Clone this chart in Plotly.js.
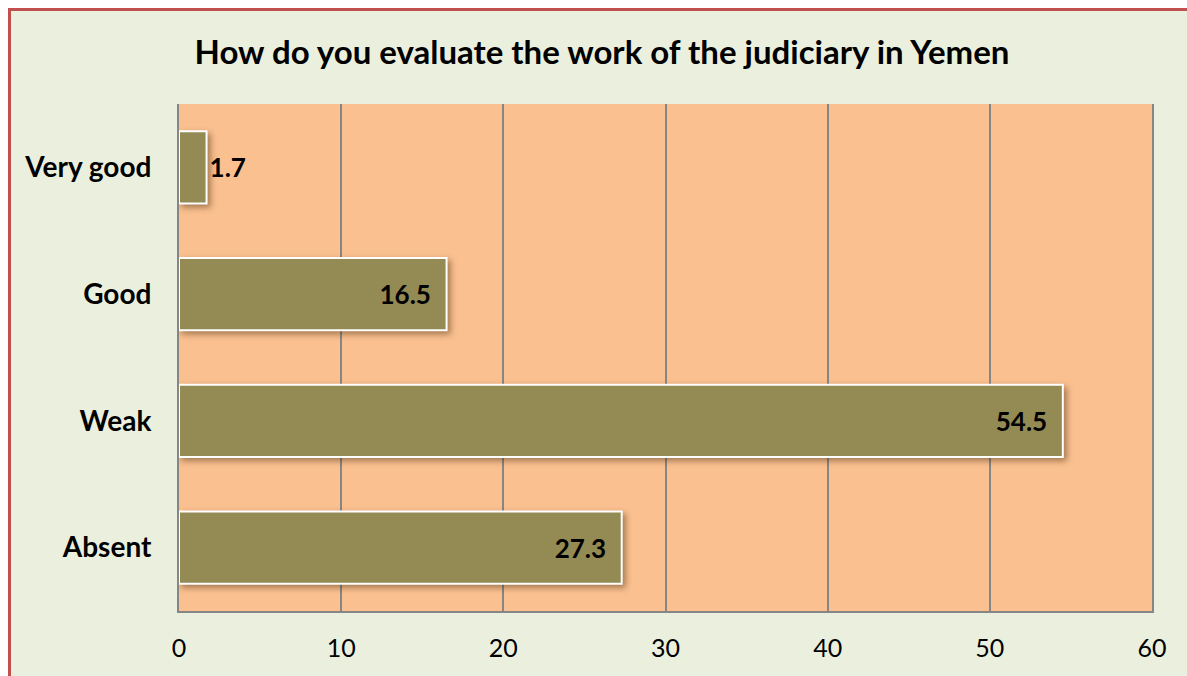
<!DOCTYPE html>
<html>
<head>
<meta charset="utf-8">
<script src="https://cdn.plot.ly/plotly-3.0.1.min.js"></script>
<style>
  html, body { margin: 0; padding: 0; background: #ffffff; }
  #frame {
    position: absolute; left: 8px; top: 8px; width: 1179px; height: 668px;
    box-sizing: border-box; background: #EBF0DE;
    border-top: 3px solid #C0504D; border-left: 3px solid #C0504D;
  }
  #chart { position: absolute; left: 0; top: 0; width: 1187px; height: 676px; }
  .barlayer .point path { filter: drop-shadow(3px 3px 3px rgba(60,30,0,0.45)); }
</style>
</head>
<body>
<div id="frame"></div>
<div id="chart"></div>
<script>
const categories = ['Very good', 'Good', 'Weak', 'Absent'];
const values = [1.7, 16.5, 54.5, 27.3];
const xTicks = [0, 10, 20, 30, 40, 50, 60];
const titleText = 'How do you evaluate the work of the judiciary in Yemen';

const FONT = 'Lato, "Noto Sans", sans-serif';
const PAD = '\u00a0\u00a0';

const trace = {
  type: 'bar',
  orientation: 'h',
  y: categories,
  x: values,
  texttemplate: '%{x:.1f}' + PAD,
  textposition: 'auto',
  insidetextanchor: 'end',
  constraintext: 'none',
  cliponaxis: false,
  textfont: { family: FONT, size: 26, color: '#000000', weight: 'bold' },
  insidetextfont: { family: FONT, size: 26, color: '#000000', weight: 'bold' },
  outsidetextfont: { family: FONT, size: 26, color: '#000000', weight: 'bold' },
  marker: { color: '#948A54', line: { color: '#FFFFFF', width: 2 } },
  hoverinfo: 'none'
};

const layout = {
  width: 1187, height: 676,
  paper_bgcolor: 'rgba(0,0,0,0)',
  plot_bgcolor: '#FAC090',
  margin: { l: 179, r: 35, t: 104, b: 65, pad: 0 },
  bargap: 0.43,
  showlegend: false,
  title: {
    text: '<b>' + titleText + '</b>',
    font: { family: FONT, size: 33, color: '#000000' },
    x: 602 / 1187, xref: 'container', xanchor: 'center',
    y: 1 - 52 / 676, yref: 'container', yanchor: 'middle'
  },
  xaxis: {
    range: [0, 60],
    tickvals: xTicks,
    ticktext: xTicks.map(String),
    showgrid: true, gridcolor: '#868686', gridwidth: 2,
    showline: true, linecolor: '#868686', linewidth: 2,
    zeroline: false,
    ticks: '',
    ticklabelstandoff: 14,
    tickfont: { family: FONT, size: 25, color: '#000000' },
    fixedrange: true
  },
  yaxis: {
    autorange: 'reversed',
    showgrid: false,
    showline: true, mirror: true, linecolor: '#868686', linewidth: 2,
    zeroline: false,
    ticks: '',
    ticklabelstandoff: 20,
    tickfont: { family: FONT, size: 28, color: '#000000', weight: 'bold' },
    fixedrange: true
  }
};

Plotly.newPlot('chart', [trace], layout, { displayModeBar: false, staticPlot: true });
</script>
</body>
</html>
